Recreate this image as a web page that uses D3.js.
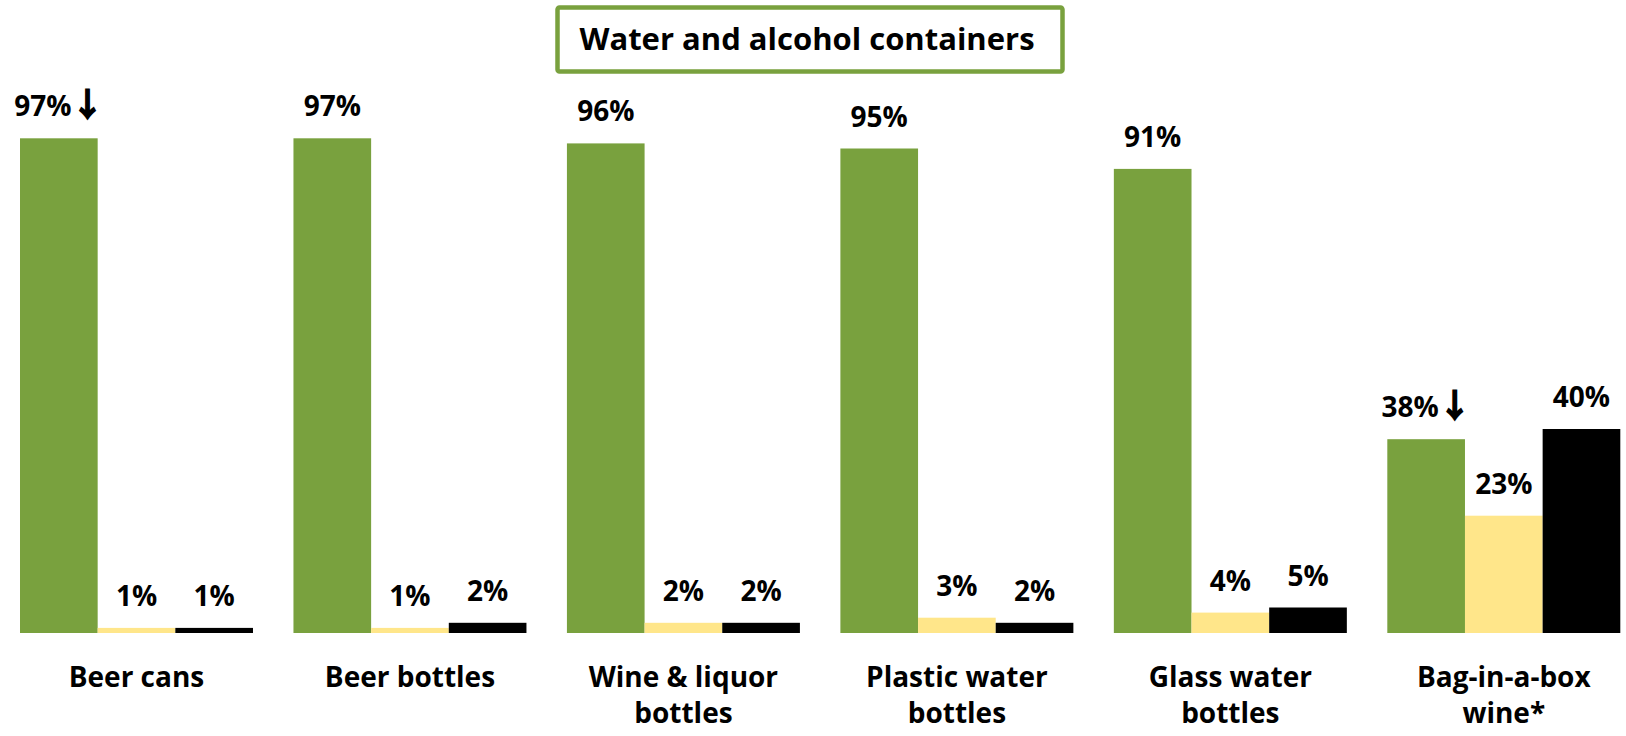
<!DOCTYPE html>
<html>
<head>
<meta charset="utf-8">
<script src="https://cdn.jsdelivr.net/npm/d3@7"></script>
<style>
  html, body { margin: 0; padding: 0; background: #ffffff; }
  svg { display: block; }
  text { font-family: "Open Sans", Lato, sans-serif; font-weight: 700; fill: #000; }
</style>
</head>
<body>
<svg id="chart" width="1626" height="736"></svg>
<script>
// Container categories (label lines)
const categories = [
  ["Beer cans"],
  ["Beer bottles"],
  ["Wine & liquor", "bottles"],
  ["Plastic water", "bottles"],
  ["Glass water", "bottles"],
  ["Bag-in-a-box", "wine*"]
];
// Percentages for the three series, one value per category
const greenValues  = [97, 97, 96, 95, 91, 38];
const yellowValues = [1, 1, 2, 3, 4, 23];
const blackValues  = [1, 2, 2, 2, 5, 40];
// Categories whose green value carries a downward-change marker
const greenArrows  = [true, false, false, false, false, true];
const chartTitle = "Water and alcohol containers";

const seriesKeys = ["green", "yellow", "black"];
const seriesColors = { green: "#79A13E", yellow: "#FFE68A", black: "#000000" };

const rows = categories.map((c, i) => ({
  id: c.join(" "),
  lines: c,
  green: greenValues[i],
  yellow: yellowValues[i],
  black: blackValues[i],
  arrow: greenArrows[i]
}));

const svg = d3.select("#chart");

const x0 = d3.scaleBand()
  .domain(rows.map(d => d.id))
  .range([20, 1620.3])
  .paddingInner(0.148)
  .paddingOuter(0);

const x1 = d3.scaleBand()
  .domain(seriesKeys)
  .range([0, x0.bandwidth()])
  .padding(0);

const y = d3.scaleLinear().domain([0, 100]).range([633, 123]);

const fontSize = 28;

// Title box
const titleG = svg.append("g");
titleG.append("rect")
  .attr("x", 557.5).attr("y", 7.5)
  .attr("width", 505).attr("height", 64)
  .attr("rx", 2)
  .attr("fill", "#fff")
  .attr("stroke", "#79A13E")
  .attr("stroke-width", 4.5);
titleG.append("text")
  .attr("x", 807).attr("y", 50)
  .attr("text-anchor", "middle")
  .attr("font-size", 31)
  .text(chartTitle);

// Bars
const groups = svg.append("g").selectAll("g")
  .data(rows)
  .join("g")
  .attr("transform", d => `translate(${x0(d.id)},0)`);

groups.selectAll("rect")
  .data(d => seriesKeys.map(k => ({ key: k, value: d[k] })))
  .join("rect")
  .attr("x", d => x1(d.key))
  .attr("y", d => y(d.value))
  .attr("width", x1.bandwidth())
  .attr("height", d => y(0) - y(d.value))
  .attr("fill", d => seriesColors[d.key]);

// Value labels
const labels = groups.selectAll("text.value")
  .data(d => seriesKeys.map(k => ({ key: k, value: d[k], arrow: k === "green" && d.arrow })))
  .join("text")
  .attr("class", "value")
  .attr("x", d => x1(d.key) + x1.bandwidth() / 2)
  .attr("y", d => y(d.value) - 22)
  .attr("text-anchor", "middle")
  .attr("font-size", fontSize);

labels.append("tspan").text(d => d.value + "%");
// Down-arrow marker, thickened with a stroke
labels.filter(d => d.arrow)
  .append("tspan")
  .attr("dx", 0)
  .style("font-family", "'Noto Sans CJK JP', 'DejaVu Sans', sans-serif")
  .style("font-weight", 700)
  .style("font-size", "32px")
  .style("stroke", "#000")
  .style("stroke-width", 1.6)
  .text("\u2193");

// Category labels
const cat = svg.append("g").selectAll("text")
  .data(rows)
  .join("text")
  .attr("x", d => x0(d.id) + x0.bandwidth() / 2)
  .attr("y", 687)
  .attr("text-anchor", "middle")
  .attr("font-size", fontSize);

cat.selectAll("tspan")
  .data(d => d.lines)
  .join("tspan")
  .attr("x", function () { return d3.select(this.parentNode).attr("x"); })
  .attr("dy", (d, i) => i === 0 ? 0 : 36)
  .text(d => d);
</script>
</body>
</html>
